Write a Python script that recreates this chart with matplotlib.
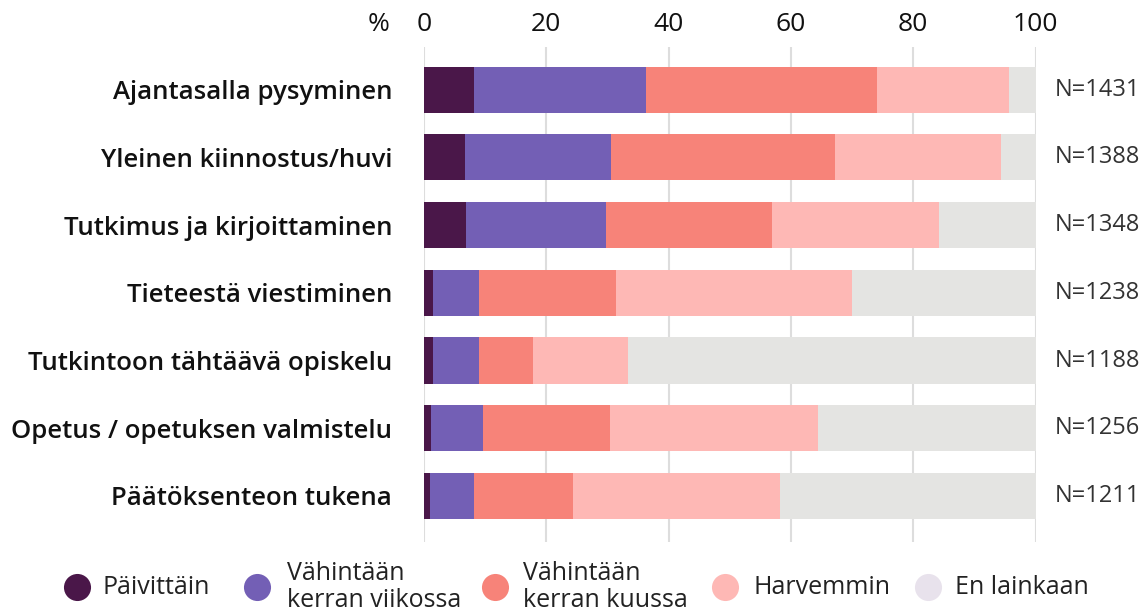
import matplotlib.pyplot as plt
from matplotlib.lines import Line2D

plt.rcParams['font.family'] = ['Open Sans', 'DejaVu Sans']

categories = [
    "Ajantasalla pysyminen",
    "Yleinen kiinnostus/huvi",
    "Tutkimus ja kirjoittaminen",
    "Tieteestä viestiminen",
    "Tutkintoon tähtäävä opiskelu",
    "Opetus / opetuksen valmistelu",
    "Päätöksenteon tukena",
]
n_labels = ["N=1431", "N=1388", "N=1348", "N=1238", "N=1188", "N=1256", "N=1211"]

series_names = ["Päivittäin", "Vähintään\nkerran viikossa", "Vähintään\nkerran kuussa",
                "Harvemmin", "En lainkaan"]
paivittain = [8.2, 6.7, 6.9, 1.5, 1.5, 1.1, 1.0]
viikoittain = [28.1, 23.9, 22.9, 7.5, 7.5, 8.5, 7.2]
kuukausittain = [37.8, 36.6, 27.1, 22.4, 8.8, 20.8, 16.2]
harvemmin = [21.6, 27.2, 27.3, 38.6, 15.6, 34.0, 33.8]
ei_lainkaan = [4.3, 5.6, 15.8, 30.0, 66.6, 35.6, 41.8]

bar_colors = ["#4a1749", "#735fb5", "#f78379", "#feb8b5", "#e4e4e2"]
legend_colors = ["#4a1749", "#735fb5", "#f78379", "#feb8b5", "#e8e2ec"]

W, H = 1145, 615
fig = plt.figure(figsize=(W / 100, H / 100), dpi=100)
ax = fig.add_axes([424 / W, (H - 542) / H, 611.5 / W, 495 / H])

rows = range(len(categories))
left = [0] * len(categories)
for vals, col in zip([paivittain, viikoittain, kuukausittain, harvemmin, ei_lainkaan], bar_colors):
    ax.barh(rows, vals, left=left, height=0.68, color=col, linewidth=0)
    left = [l + v for l, v in zip(left, vals)]

ax.set_xlim(0, 100)
ax.set_ylim(6.68, -0.63)
ax.set_xticks([0, 20, 40, 60, 80, 100])
ax.xaxis.tick_top()
ax.tick_params(axis='x', length=0, pad=7, labelsize=19, labelcolor='#111111')
ax.set_yticks(list(rows))
ax.set_yticklabels(categories, fontsize=18.5, fontweight='semibold', color='#111111')
ax.tick_params(axis='y', length=0, pad=23)
ax.grid(axis='x', color='#dddddd', linewidth=1.5)
ax.set_axisbelow(True)
for s in ax.spines.values():
    s.set_visible(False)

# percent sign next to the top tick labels
ax.text(-5.7, 1.0, "%", transform=ax.get_xaxis_transform(), ha='right', va='bottom',
        fontsize=19, color='#111111')
ax.texts[-1].set_y(1.0 + 10 / 495)

for i, lab in enumerate(n_labels):
    ax.text(103.2, i, lab, ha='left', va='center', fontsize=17, color='#333333', clip_on=False)

# legend drawn by hand: marker centre and text start in pixels
marker_x = [77, 257, 495, 725, 928]
text_x = [103, 287, 523, 753, 955]
leg_y = 1 - 587 / H
for mx, tx, col, name in zip(marker_x, text_x, legend_colors, series_names):
    fig.add_artist(Line2D([mx / W], [leg_y], transform=fig.transFigure, linestyle='none',
                          marker='o', markersize=19.5, markerfacecolor=col, markeredgewidth=0))
    fig.text(tx / W, leg_y, name, ha='left', va='center', fontsize=18, color='#222222',
             linespacing=1.1)

fig.savefig("out.png", dpi=100)
